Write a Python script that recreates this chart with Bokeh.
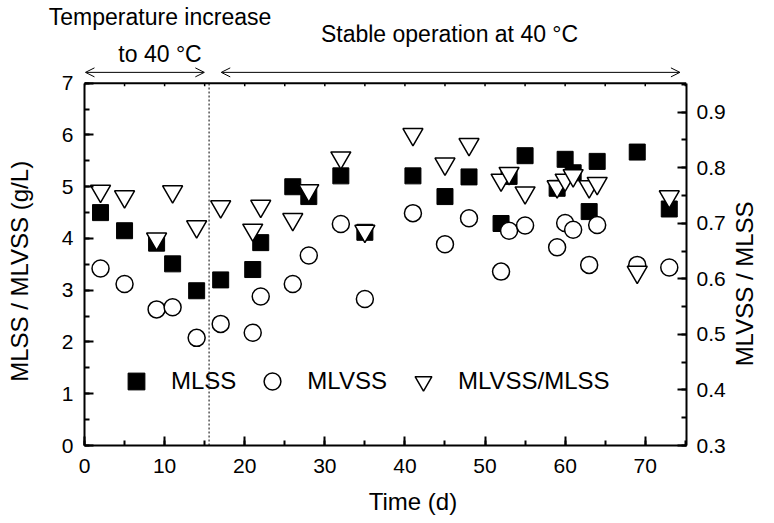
import math
from bokeh.plotting import figure
from bokeh.models import (Range1d, LinearAxis, Label, Arrow, OpenHead, Span, Legend,
                          LegendItem, SingleIntervalTicker, FixedTicker, CustomJSTickFormatter)
from bokeh.embed import file_html
from bokeh.resources import INLINE

# ---- data ----
days = [2, 5, 9, 11, 14, 17, 21, 22, 26, 28, 32, 35, 41, 45, 48, 52, 53, 55, 59, 60, 61, 63, 64, 69, 73]
mlss = [4.50, 4.15, 3.91, 3.51, 2.99, 3.20, 3.40, 3.92, 5.00, 4.81, 5.21, 4.12, 5.21, 4.81, 5.19,
        4.29, 5.20, 5.60, 4.97, 5.53, 5.27, 4.52, 5.49, 5.67, 4.57]
mlvss = [3.42, 3.12, 2.63, 2.67, 2.08, 2.35, 2.18, 2.88, 3.12, 3.67, 4.28, 2.83, 4.49, 3.89, 4.39,
         3.36, 4.15, 4.25, 3.83, 4.30, 4.17, 3.49, 4.26, 3.49, 3.44]
ratio = [0.758, 0.748, 0.672, 0.757, 0.694, 0.730, 0.688, 0.731, 0.707, 0.759, 0.818, 0.686, 0.860,
         0.807, 0.842, 0.778, 0.790, 0.755, 0.766, 0.778, 0.786, 0.766, 0.772, 0.612, 0.748]

series_labels = ["MLSS", "MLVSS", "MLVSS/MLSS"]
x_title = "Time (d)"
y_title = "MLSS / MLVSS (g/L)"
y2_title = "MLVSS / MLSS"
phase_split = 15.55
phase1_text = ["Temperature increase", "to 40 °C"]
phase2_text = "Stable operation at 40 °C"

FONT = "Liberation Sans"

# axis limits of the plot box
X0, X1 = 0.0, 75.15
Y0, Y1 = 0.0, 7.0
R0, R1 = 0.3, 0.952
X_STEP = 5  # spacing of the small ticks on the top edge of the box
# the frame is extended upward so that the phase notes can be drawn in it
Y_TOP = 8.135
R_TOP = R0 + (Y_TOP - Y0) * (R1 - R0) / (Y1 - Y0)

p = figure(width=774, height=521, x_range=Range1d(X0, X1), y_range=Range1d(Y0, Y_TOP),
           output_backend="svg", toolbar_location=None,
           min_border_left=84, min_border_right=82, min_border_top=22, min_border_bottom=76)
p.extra_y_ranges = {"ratio": Range1d(R0, R_TOP)}
p.xgrid.visible = False
p.ygrid.visible = False
p.outline_line_color = None
p.background_fill_color = "white"
p.border_fill_color = "white"


def style(ax, standoff, tick_in=9, minor_in=5):
    ax.axis_line_width = 2
    ax.axis_line_color = "black"
    ax.major_tick_in = tick_in
    ax.major_tick_out = 0
    ax.minor_tick_in = minor_in
    ax.minor_tick_out = 0
    ax.major_tick_line_width = 2
    ax.minor_tick_line_width = 2
    ax.major_tick_line_color = "black"
    ax.minor_tick_line_color = "black"
    ax.major_label_text_font = FONT
    ax.major_label_text_font_size = "21px"
    ax.major_label_text_color = "black"
    ax.major_label_standoff = standoff


def text_axis(text, at, standoff, size, orientation=None):
    ax = LinearAxis(ticker=FixedTicker(ticks=[at], minor_ticks=[]),
                    formatter=CustomJSTickFormatter(args=dict(t=text), code="return t"))
    ax.axis_line_color = None
    ax.major_tick_line_color = None
    ax.minor_tick_line_color = None
    ax.major_tick_in = 0
    ax.major_tick_out = 0
    ax.minor_tick_in = 0
    ax.minor_tick_out = 0
    ax.major_label_standoff = standoff
    ax.major_label_text_font = FONT
    ax.major_label_text_font_size = size
    ax.major_label_text_color = "black"
    if orientation is not None:
        ax.major_label_orientation = orientation
    return ax


xax = p.xaxis[0]
xax.ticker = SingleIntervalTicker(interval=10, num_minor_ticks=2)
style(xax, 13)

yax = p.yaxis[0]
yax.ticker = SingleIntervalTicker(interval=1, num_minor_ticks=2)
yax.bounds = (Y0, Y1)
style(yax, 11)

rax = LinearAxis(y_range_name="ratio", ticker=SingleIntervalTicker(interval=0.1, num_minor_ticks=2),
                 bounds=(R0, R1))
style(rax, 10)
p.add_layout(rax, "right")

# axis titles, placed where the reference has them
p.add_layout(text_axis(x_title, 41, 12, "24px"), "below")
p.add_layout(text_axis(y_title, 3.365, 25, "24px", "parallel"), "left")
p.add_layout(text_axis(y2_title, 1.529, 16, "24px", math.pi / 2), "right")
# first line of the left phase note (reaches left of the plot box)
p.add_layout(text_axis(phase1_text[0], 9.43, -5, "23px"), "above")

# top edge of the plot box, with its small inward ticks
p.add_layout(Span(location=Y1, dimension="width", line_color="black", line_width=2))
top_ticks = [X_STEP * i for i in range(int(X1 // X_STEP) + 1)]
p.segment(x0=top_ticks, y0=[Y1] * len(top_ticks), x1=top_ticks,
          y1=[Y1 - 0.06] * len(top_ticks), line_color="black", line_width=1.5)

# ---- phase marker ----
p.segment(x0=[phase_split], y0=[Y0], x1=[phase_split], y1=[Y1], line_color="black",
          line_width=1, line_dash="2 2")

# ---- data ----
r_sq = p.scatter(days, mlss, marker="square", size=16, fill_color="black",
                 line_color="black", line_width=1)
r_ci = p.scatter(days, mlvss, marker="circle", size=17, fill_color="white",
                 line_color="black", line_width=1.5)
r_tr = p.scatter(days, ratio, marker="inverted_triangle", size=20, fill_color="white",
                 line_color="black", line_width=1.5, y_range_name="ratio")

legend = Legend(items=[LegendItem(label=series_labels[0], renderers=[r_sq]),
                       LegendItem(label=series_labels[1], renderers=[r_ci]),
                       LegendItem(label=series_labels[2], renderers=[r_tr])],
                orientation="horizontal", location=(31, 43), glyph_width=42, glyph_height=42,
                label_standoff=14, spacing=15, padding=0, margin=0,
                background_fill_alpha=0, border_line_color=None,
                label_text_font=FONT, label_text_font_size="24px", label_text_color="black")
p.add_layout(legend)

# ---- phase arrows and notes above the box ----
arrow_y = 7.21
p.add_layout(Arrow(start=OpenHead(size=9, line_width=1), end=OpenHead(size=9, line_width=1),
                   x_start=0.12, y_start=arrow_y, x_end=14.96, y_end=arrow_y, line_width=1))
p.add_layout(Arrow(start=OpenHead(size=9, line_width=1), end=OpenHead(size=9, line_width=1),
                   x_start=17.07, y_start=arrow_y, x_end=74.33, y_end=arrow_y, line_width=1))
p.add_layout(Label(x=9.43, y=7.558, text=phase1_text[1], text_align="center",
                   text_baseline="middle", text_font=FONT, text_font_size="23px",
                   text_color="black"))
p.add_layout(Label(x=45.57, y=7.956, text=phase2_text, text_align="center",
                   text_baseline="middle", text_font=FONT, text_font_size="23px",
                   text_color="black"))

open("out.html", "w").write(file_html(p, INLINE))
